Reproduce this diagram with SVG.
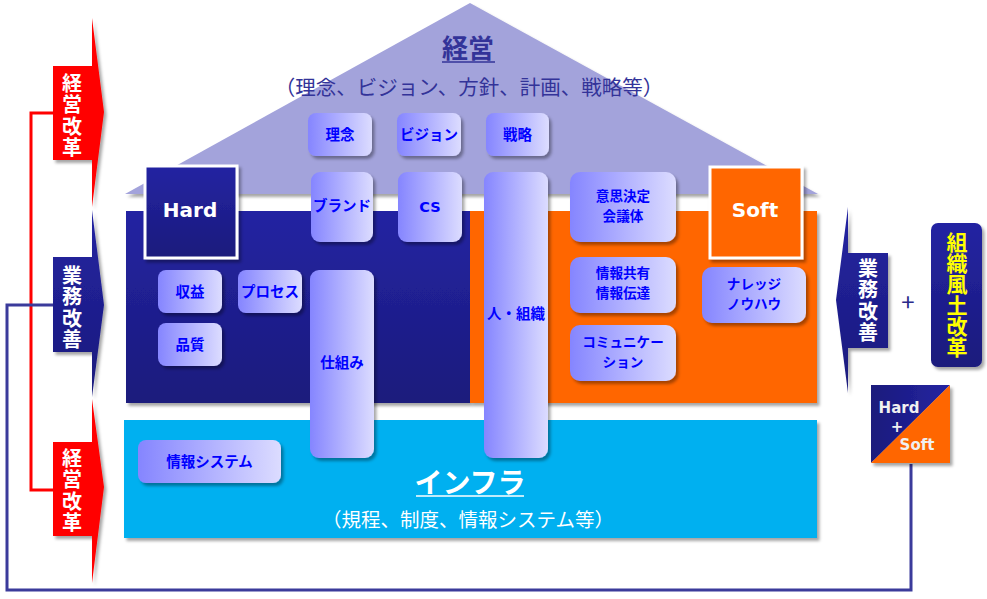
<svg xmlns="http://www.w3.org/2000/svg" width="987" height="599" viewBox="0 0 987 599">
<style>
.jp{font-family:"Noto Sans CJK JP","Noto Sans",sans-serif}
.lat{font-family:"DejaVu Sans","Noto Sans CJK JP",sans-serif;font-weight:bold}
.box{fill:url(#gBox);filter:url(#sh)}
.bt{font-family:"Noto Sans CJK JP",sans-serif;font-weight:bold;font-size:14.5px;fill:#0000FF;text-anchor:middle}
.bt2{font-size:13.6px}
.vt{font-family:"Noto Sans CJK JP",sans-serif;font-weight:bold;font-size:20px;fill:#FFFFFF;text-anchor:middle;writing-mode:vertical-rl;letter-spacing:1.5px}
.navy{fill:url(#gNavy)}
</style>
<defs>
<linearGradient id="gBox" x1="0" y1="0" x2="1" y2="0">
<stop offset="0" stop-color="#8585FF"/>
<stop offset="1" stop-color="#DCDCFF"/>
</linearGradient>
<linearGradient id="gNavy" x1="0" y1="0" x2="0" y2="1">
<stop offset="0" stop-color="#2424A2"/>
<stop offset="1" stop-color="#1A1A7C"/>
</linearGradient>
<linearGradient id="gNavyH" x1="0" y1="0" x2="1" y2="0">
<stop offset="0" stop-color="#1A1A7C"/>
<stop offset="1" stop-color="#2424A2"/>
</linearGradient>
<filter id="sh" x="-10%" y="-10%" width="130%" height="130%">
<feDropShadow dx="2.5" dy="3" stdDeviation="1.5" flood-color="#000" flood-opacity="0.35"/>
</filter>
</defs>

<g id="connectors" fill="none" stroke-linejoin="miter">
<polyline points="53,113 31,113 31,490 53,490" stroke="#FF0000" stroke-width="3"/>
<polyline points="53,305 7,305 7,590 911,590 911,464" stroke="#3B3B9B" stroke-width="3"/>
</g>

<g id="roof">
<polygon points="470,3 818,194 125,194" fill="#A3A3DB" filter="url(#sh)"/>
<text x="468" y="58" class="jp" font-size="26" font-weight="bold" fill="#333399" text-anchor="middle">経営</text>
<line x1="442" y1="62" x2="495" y2="62" stroke="#333399" stroke-width="1.5"/>
<text x="469" y="95" class="jp" font-size="20.5" fill="#333399" text-anchor="middle">（理念、ビジョン、方針、計画、戦略等）</text>
</g>

<g id="hard-body"><rect x="126" y="211" width="344" height="192" class="navy" filter="url(#sh)"/></g>
<g id="soft-body"><rect x="470" y="211" width="347" height="192" fill="#FF6600" filter="url(#sh)"/></g>
<g id="infra">
<rect x="124" y="420" width="693" height="118" fill="#00B0F0" filter="url(#sh)"/>
<text x="470" y="493" class="jp" font-size="28" font-weight="bold" fill="#FFFFFF" text-anchor="middle">インフラ</text>
<line x1="416" y1="496" x2="524" y2="496" stroke="#FFFFFF" stroke-width="1.5"/>
<text x="468" y="527" class="jp" font-size="19.5" fill="#FFFFFF" text-anchor="middle">（規程、制度、情報システム等）</text>
</g>

<g id="hard">
<rect x="145" y="166" width="92" height="92" class="navy" stroke="#FFFFFF" stroke-width="3" filter="url(#sh)"/>
<text x="190" y="217" class="lat" font-size="20" fill="#FFFFFF" text-anchor="middle">Hard</text>
</g>
<g id="soft">
<rect x="710" y="167" width="92" height="91" fill="#FF6600" stroke="#FFFFFF" stroke-width="3" filter="url(#sh)"/>
<text x="755" y="217" class="lat" font-size="20" fill="#FFFFFF" text-anchor="middle">Soft</text>
</g>

<g id="rinen"><rect x="308" y="113" width="64" height="43" rx="8" class="box"/><text x="340" y="140" class="bt">理念</text></g>
<g id="vision"><rect x="397" y="113" width="64" height="43" rx="8" class="box"/><text x="429" y="140" class="bt">ビジョン</text></g>
<g id="senryaku"><rect x="486" y="113" width="63" height="43" rx="8" class="box"/><text x="517.5" y="140" class="bt">戦略</text></g>
<g id="brand"><rect x="311" y="172" width="62" height="70" rx="9" class="box"/><text x="342" y="211" class="bt">ブランド</text></g>
<g id="cs"><rect x="398" y="172" width="64" height="70" rx="9" class="box"/><text x="430" y="212" class="bt" style="font-family:'DejaVu Sans',sans-serif">CS</text></g>
<g id="hito"><rect x="484" y="172" width="64" height="286" rx="9" class="box"/><text x="516" y="319" class="bt">人・組織</text></g>
<g id="ishikettei"><rect x="570" y="172" width="106" height="70" rx="10" class="box"/><text class="bt bt2"><tspan x="623" y="201">意思決定</tspan><tspan x="623" y="221">会議体</tspan></text></g>
<g id="joho"><rect x="570" y="257" width="106" height="56" rx="10" class="box"/><text class="bt bt2"><tspan x="623" y="277.5">情報共有</tspan><tspan x="623" y="297.5">情報伝達</tspan></text></g>
<g id="comm"><rect x="570" y="325" width="106" height="56" rx="10" class="box"/><text class="bt bt2"><tspan x="623" y="346.5">コミュニケー</tspan><tspan x="623" y="366.5">ション</tspan></text></g>
<g id="shikumi"><rect x="310" y="270" width="64" height="188" rx="9" class="box"/><text x="342" y="368" class="bt">仕組み</text></g>
<g id="shueki"><rect x="158" y="270" width="64" height="43" rx="8" class="box"/><text x="190" y="297" class="bt">収益</text></g>
<g id="process"><rect x="238" y="270" width="64" height="43" rx="8" class="box"/><text x="270" y="297" class="bt">プロセス</text></g>
<g id="hinshitsu"><rect x="158" y="323" width="64" height="43" rx="8" class="box"/><text x="190" y="350" class="bt">品質</text></g>
<g id="knowledge"><rect x="702" y="267" width="104" height="56" rx="10" class="box"/><text class="bt bt2"><tspan x="754" y="288.5">ナレッジ</tspan><tspan x="754" y="308.5">ノウハウ</tspan></text></g>
<g id="johosystem"><rect x="138" y="440" width="143" height="43" rx="8" class="box"/><text x="209.5" y="467" class="bt">情報システム</text></g>

<g id="keiei-top">
<polygon points="92,18 104,112 92,207 92,160 53,160 53,66 92,66" fill="#FF0000" filter="url(#sh)"/>
<text x="72" y="116" class="vt">経営改革</text>
</g>
<g id="gyomu-left">
<polygon points="92,210 104,305 92,397 92,352 53,352 53,257 92,257" class="navy" filter="url(#sh)"/>
<text x="72" y="308" class="vt">業務改善</text>
</g>
<g id="keiei-bottom">
<polygon points="92,399 104,487 92,583 92,536 53,536 53,442 92,442" fill="#FF0000" filter="url(#sh)"/>
<text x="72" y="491" class="vt">経営改革</text>
</g>
<g id="gyomu-right">
<polygon points="848,207 836,300 848,393 848,348 888,348 888,253 848,253" class="navy" filter="url(#sh)"/>
<text x="868" y="301" class="vt">業務改善</text>
</g>
<g id="plus"><text x="908" y="311" class="jp" font-size="24" fill="#2B2B8B" text-anchor="middle">+</text></g>
<g id="soshiki">
<rect x="931" y="223" width="51" height="144" rx="7" class="navy" filter="url(#sh)"/>
<text x="957" y="295" class="vt" style="fill:#FFFF00;font-size:21px;letter-spacing:0">組織風土改革</text>
</g>
<g id="hardsoft">
<g filter="url(#sh)">
<polygon points="871,385 950,385 871,463" fill="url(#gNavyH)"/>
<polygon points="950,385 950,463 871,463" fill="#FF6600"/>
</g>
<text x="899" y="413" class="lat" font-size="15" fill="#F0F0F0" text-anchor="middle">Hard</text>
<text x="897" y="432" class="lat" font-size="15" fill="#F0F0F0" text-anchor="middle">+</text>
<text x="917" y="450" class="lat" font-size="15" fill="#F0F0F0" text-anchor="middle">Soft</text>
</g>
</svg>
